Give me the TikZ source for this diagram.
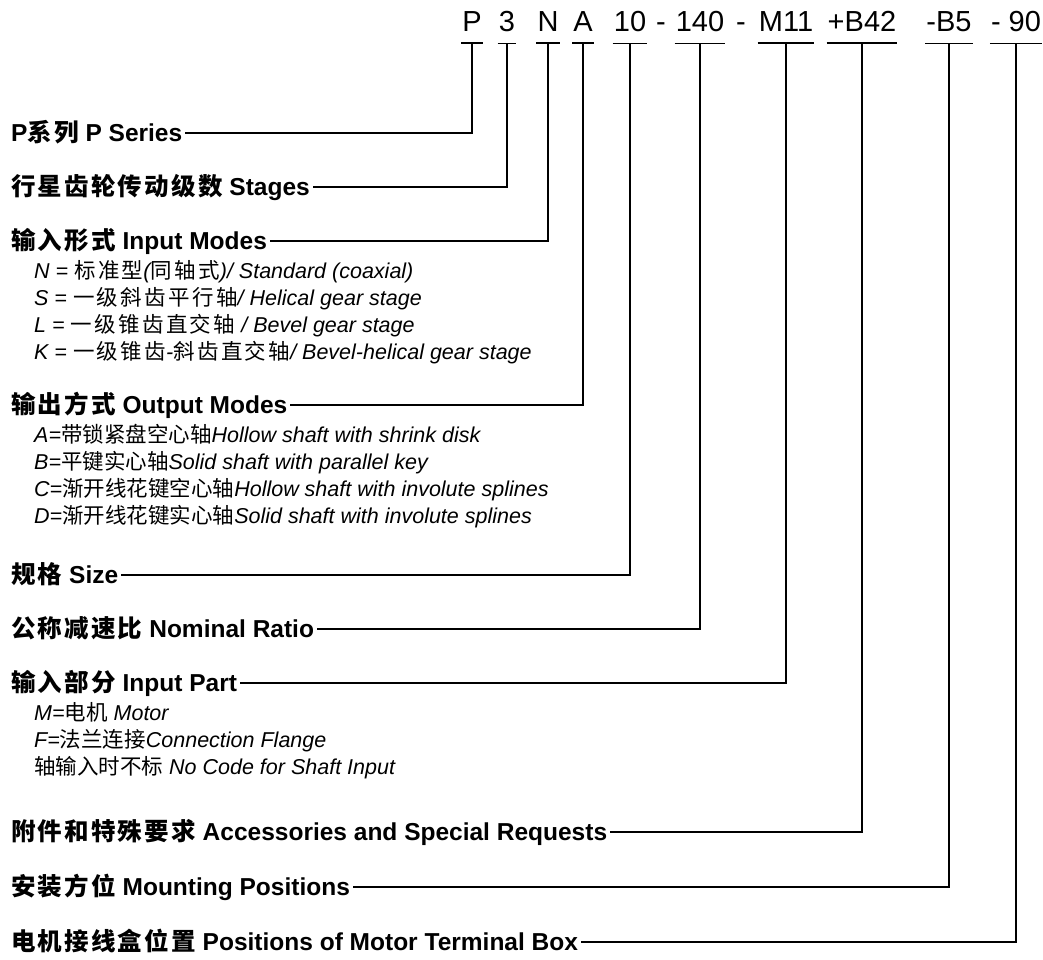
\documentclass[tikz,border=0pt]{standalone}
\usepackage{fontspec}
\setmainfont{Liberation Sans}
\newfontfamily\cjk{Noto Sans CJK SC}
\newfontfamily\cjkwide[LetterSpace=11]{Noto Sans CJK SC}
\newfontfamily\cjkhead[LetterSpace=9]{Noto Sans CJK SC}
\newcommand{\zh}[1]{{\cjk\upshape #1}}
\newcommand{\zhw}[1]{{\cjkwide\upshape #1}}
\newcommand{\zhb}[1]{{\cjkhead\bfseries #1}}

\tikzset{
  code/.style={font=\fontsize{29}{30}\selectfont, anchor=base,
    inner xsep=1pt, inner ysep=11pt},
  head/.style={font=\fontsize{24.5}{26}\selectfont\bfseries, anchor=west,
    inner xsep=3pt, inner ysep=0pt, text height=17pt, text depth=0pt},
  item/.style={font=\fontsize{21.5}{24}\selectfont\itshape, anchor=west,
    inner sep=0pt, text height=15pt, text depth=0pt},
  link/.style={line width=1.5pt}
}

\begin{document}
\begin{tikzpicture}[x=1pt, y=-1pt]
  \def\Yc{32};
  \def\Xh{8};
  \def\Xi{34};
  \useasboundingbox (0,0) rectangle (1043,960);

        % type code
        \node[code] (cP) at (472, \Yc) {P};
        \node[code] (cThree) at (507, \Yc) {3};
        \node[code] (cN) at (548, \Yc) {N};
        \node[code] (cA) at (583, \Yc) {A};
        \node[code] (cSize) at (630, \Yc) {10};
        \node[code] (cDashA) at (661, \Yc) {-};
        \node[code] (cRatio) at (700, \Yc) {140};
        \node[code] (cDashB) at (741, \Yc) {-};
        \node[code] (cM) at (786, \Yc) {M11};
        \node[code] (cB) at (862, \Yc) {+B42};
        \node[code] (cPos) at (949, \Yc) {-B5};
        \node[code] (cBox) at (1016, \Yc) {- 90};

        \foreach \c in {cP, cThree, cN, cA, cSize, cRatio, cM, cB, cPos, cBox}
          \draw[link] (\c.south west) -- (\c.south east);

        % headings
        \node[head] (hSeries) at (\Xh, 133) {P\zhb{系列} P Series};
        \node[head] (hStages) at (\Xh, 187) {\zhb{行星齿轮传动级数} Stages};
        \node[head] (hIn) at (\Xh, 241) {\zhb{输入形式} Input Modes};
        \node[head] (hOut) at (\Xh, 405) {\zhb{输出方式} Output Modes};
        \node[head] (hSize) at (\Xh, 575) {\zhb{规格} Size};
        \node[head] (hRatio) at (\Xh, 629) {\zhb{公称减速比} Nominal Ratio};
        \node[head] (hPart) at (\Xh, 683) {\zhb{输入部分} Input Part};
        \node[head] (hAcc) at (\Xh, 832) {\zhb{附件和特殊要求} Accessories and Special Requests};
        \node[head] (hMount) at (\Xh, 887) {\zhb{安装方位} Mounting Positions};
        \node[head] (hBox) at (\Xh, 942) {\zhb{电机接线盒位置} Positions of Motor Terminal Box};

        % options
        \node[item] (iN) at (\Xi, 271) {N = \zhw{标准型}(\zhw{同轴式})/ Standard (coaxial)};
        \node[item] (iS) at (\Xi, 298) {S = \zhw{一级斜齿平行轴}/ Helical gear stage};
        \node[item] (iL) at (\Xi, 325) {L = \zhw{一级锥齿直交轴} / Bevel gear stage};
        \node[item] (iK) at (\Xi, 352) {K = \zhw{一级锥齿}-\zhw{斜齿直交轴}/ Bevel-helical gear stage};

        \node[item] (iA) at (\Xi, 435) {A=\zh{带锁紧盘空心轴}Hollow shaft with shrink disk};
        \node[item] (iB) at (\Xi, 462) {B=\zh{平键实心轴}Solid shaft with parallel key};
        \node[item] (iC) at (\Xi, 489) {C=\zh{渐开线花键空心轴}Hollow shaft with involute splines};
        \node[item] (iD) at (\Xi, 516) {D=\zh{渐开线花键实心轴}Solid shaft with involute splines};

        \node[item] (iM) at (\Xi, 713) {M=\zh{电机} Motor};
        \node[item] (iF) at (\Xi, 740) {F=\zh{法兰连接}Connection Flange};
        \node[item] (iShaft) at (\Xi, 767) {\zh{轴输入时不标} No Code for Shaft Input};

        % leaders
        \draw[link] (cP.south) |- (hSeries.east);
        \draw[link] (cThree.south) |- (hStages.east);
        \draw[link] (cN.south) |- (hIn.east);
        \draw[link] (cA.south) |- (hOut.east);
        \draw[link] (cSize.south) |- (hSize.east);
        \draw[link] (cRatio.south) |- (hRatio.east);
        \draw[link] (cM.south) |- (hPart.east);
        \draw[link] (cB.south) |- (hAcc.east);
        \draw[link] (cPos.south) |- (hMount.east);
        \draw[link] (cBox.south) |- (hBox.east);

\end{tikzpicture}
\end{document}
